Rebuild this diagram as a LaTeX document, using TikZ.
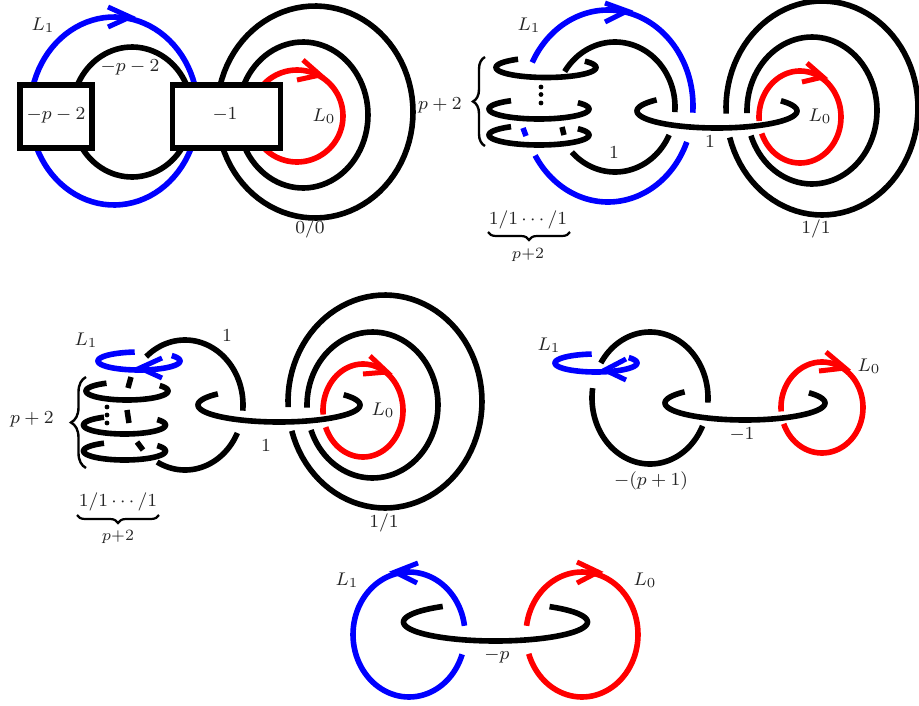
\documentclass[tikz,border=0pt]{standalone}
\usetikzlibrary{decorations.pathreplacing}
\newcommand{\knotarc}[7][black]{\draw[knotline,draw=#1] plot[domain=#6:#7,samples=90] ({#2+#4*cos(\x)},{#3+#5*sin(\x)});}
\tikzset{
  knotline/.style={line width=5.6pt,line join=round},
  arrowline/.style={line width=5pt,line join=miter},
  framebox/.style={draw=black,fill=white,line width=5.6pt,minimum width=0pt,inner sep=0pt},
  lab/.style={font=\footnotesize,scale=2.3,inner sep=0pt,text=black!85},
  smalllab/.style={font=\scriptsize,scale=2.25,inner sep=0pt,text=black!85},
  dashmark/.style={line width=5.5pt},
  bigbrace/.style={decorate,line width=2.4pt,decoration={brace,amplitude=12pt}},
  lowbrace/.style={decorate,line width=2.2pt,decoration={brace,amplitude=8pt}},
  dotmark/.style={fill=black,draw=none}
}
\begin{document}
\begin{tikzpicture}[x=1pt,y=-1pt]
\useasboundingbox (0,0) rectangle (919,705);
% ---- picture 1
\knotarc[blue]{114}{111}{84}{94}{0}{360}
\knotarc{132}{112}{60}{65}{0}{360}
\knotarc{315}{112}{98}{106}{0}{360}
\knotarc{303}{115}{65}{73}{0}{360}
\knotarc[red]{297}{116}{46}{46}{0}{360}
\draw[arrowline,blue] (108,7)--(130,17)--(108,27);
\draw[arrowline,red] (303,60)--(320,75)--(297,80);
\node[framebox,minimum width=72.5pt,minimum height=63pt] (boxa) at (56,116.5) {};
\node[framebox,minimum width=108pt,minimum height=63pt] (boxb) at (226.5,116.5) {};
\node[lab] (a1) at (43,25) {$L_1$};
\node[lab] (a2) at (130,67) {$-p-2$};
\node[lab] (a3) at (56,115) {$-p-2$};
\node[lab] (a4) at (225,115) {$-1$};
\node[lab] (a5) at (324,116) {$L_0$};
\node[lab] (a6) at (310,229) {$0/0$};
% ---- picture 2
\knotarc[blue]{608}{106}{85}{96}{-153}{4}
\knotarc[blue]{608}{106}{85}{96}{22}{149}
\knotarc{615}{107}{60}{65}{-147}{4.5}
\knotarc{615}{107}{60}{65}{25.5}{136}
\knotarc{546}{67.5}{50}{10}{-39}{236}
\knotarc{539}{109}{50}{10}{-39}{236}
\knotarc{539}{135}{50}{10}{-39}{236}
\draw[dashmark,blue] (523,128)--(526,136);
\draw[dashmark] (562,127)--(564,135);
\fill[dotmark] (541,87) circle (2.4) (541,94.5) circle (2.4) (541,103) circle (2.4);
\draw[arrowline,blue] (605,3)--(627,11)--(605,22);
\knotarc{717}{111}{80}{17}{-37}{221}
\knotarc{822}{108}{96}{107}{177}{524}
\knotarc{812}{110.5}{65}{73.5}{178}{520}
\knotarc[red]{800}{117}{41}{46}{175}{519}
\draw[arrowline,red] (807,63)--(823,77)--(802,82);
\draw[bigbrace] (485,146)--(485,57);
\draw[lowbrace] (570,232)--(488,232);
\node[lab] (b1) at (529,25) {$L_1$};
\node[lab] (b2) at (440,105) {$p+2$};
\node[lab] (b3) at (614,153) {$1$};
\node[lab] (b4) at (710,142) {$1$};
\node[lab] (b5) at (820,116) {$L_0$};
\node[lab] (b6) at (816,229) {$1/1$};
\node[lab] (b7) at (528,220) {$1/1\cdots/1$};
\node[smalllab] (b8) at (528,255) {$p{+}2$};
% ---- picture 3
\knotarc{185}{405}{58}{65}{-132}{5}
\knotarc{185}{405}{58}{65}{25.5}{118.7}
\knotarc[blue]{139}{361}{41}{9}{-37}{264}
\draw[arrowline,blue] (162,358)--(140,368)--(162,378);
\knotarc{127}{391}{41}{9}{-37}{240}
\knotarc{124.5}{425}{41}{9}{-37}{240}
\knotarc{124.5}{451}{41}{9}{-37}{240}
\draw[dashmark] (131,377)--(128,388);
\draw[dashmark] (127,410)--(129,423);
\draw[dashmark] (137,442)--(143,450);
\fill[dotmark] (107,407) circle (2.4) (107,415) circle (2.4) (107,423) circle (2.4);
\knotarc{279}{405}{81}{17}{-37}{221}
\knotarc{385}{401.5}{97}{106.5}{177}{524}
\knotarc{372.5}{405}{65.5}{73}{178}{520}
\knotarc[red]{363}{410.5}{40}{46.5}{175}{519}
\draw[arrowline,red] (370,356)--(387,372)--(363,374);
\draw[bigbrace,decoration={amplitude=15pt}] (86,468)--(86,377);
\draw[lowbrace] (159,515)--(77,515);
\node[lab] (c1) at (86,340) {$L_1$};
\node[lab] (c2) at (32,419) {$p+2$};
\node[lab] (c3) at (227,336) {$1$};
\node[lab] (c4) at (266,446) {$1$};
\node[lab] (c5) at (383,410) {$L_0$};
\node[lab] (c6) at (384,523) {$1/1$};
\node[lab] (c7) at (118,502) {$1/1\cdots/1$};
\node[smalllab] (c8) at (118,537) {$p{+}2$};
% ---- picture 4
\knotarc[blue]{596}{363}{41}{9}{-37}{264}
\draw[arrowline,blue] (626,359)--(605,370)--(626,380);
\knotarc{650}{398}{58}{66}{-148}{4}
\knotarc{650}{398}{58}{66}{25}{188.6}
\knotarc{745}{403}{80}{17}{-37}{221}
\knotarc[red]{822}{407.5}{41}{45.5}{175}{519}
\draw[arrowline,red] (826,352)--(845,368)--(819,371);
\node[lab] (d1) at (549,345) {$L_1$};
\node[lab] (d2) at (869,366) {$L_0$};
\node[lab] (d3) at (742,435) {$-1$};
\node[lab] (d4) at (651,481) {$-(p+1)$};
% ---- picture 5
\knotarc[blue]{409}{634.5}{56}{62.5}{18.5}{352}
\draw[arrowline,blue] (418,563)--(395,572)--(417,583);
\knotarc[red]{582}{634.5}{56}{62.5}{188}{522}
\draw[arrowline,red] (577,562)--(598,572)--(577,583);
\knotarc{495.5}{622}{92}{19}{-54}{235}
\node[lab] (e1) at (347,580) {$L_1$};
\node[lab] (e2) at (645,580) {$L_0$};
\node[lab] (e3) at (497,656) {$-p$};
\end{tikzpicture}
\end{document}
